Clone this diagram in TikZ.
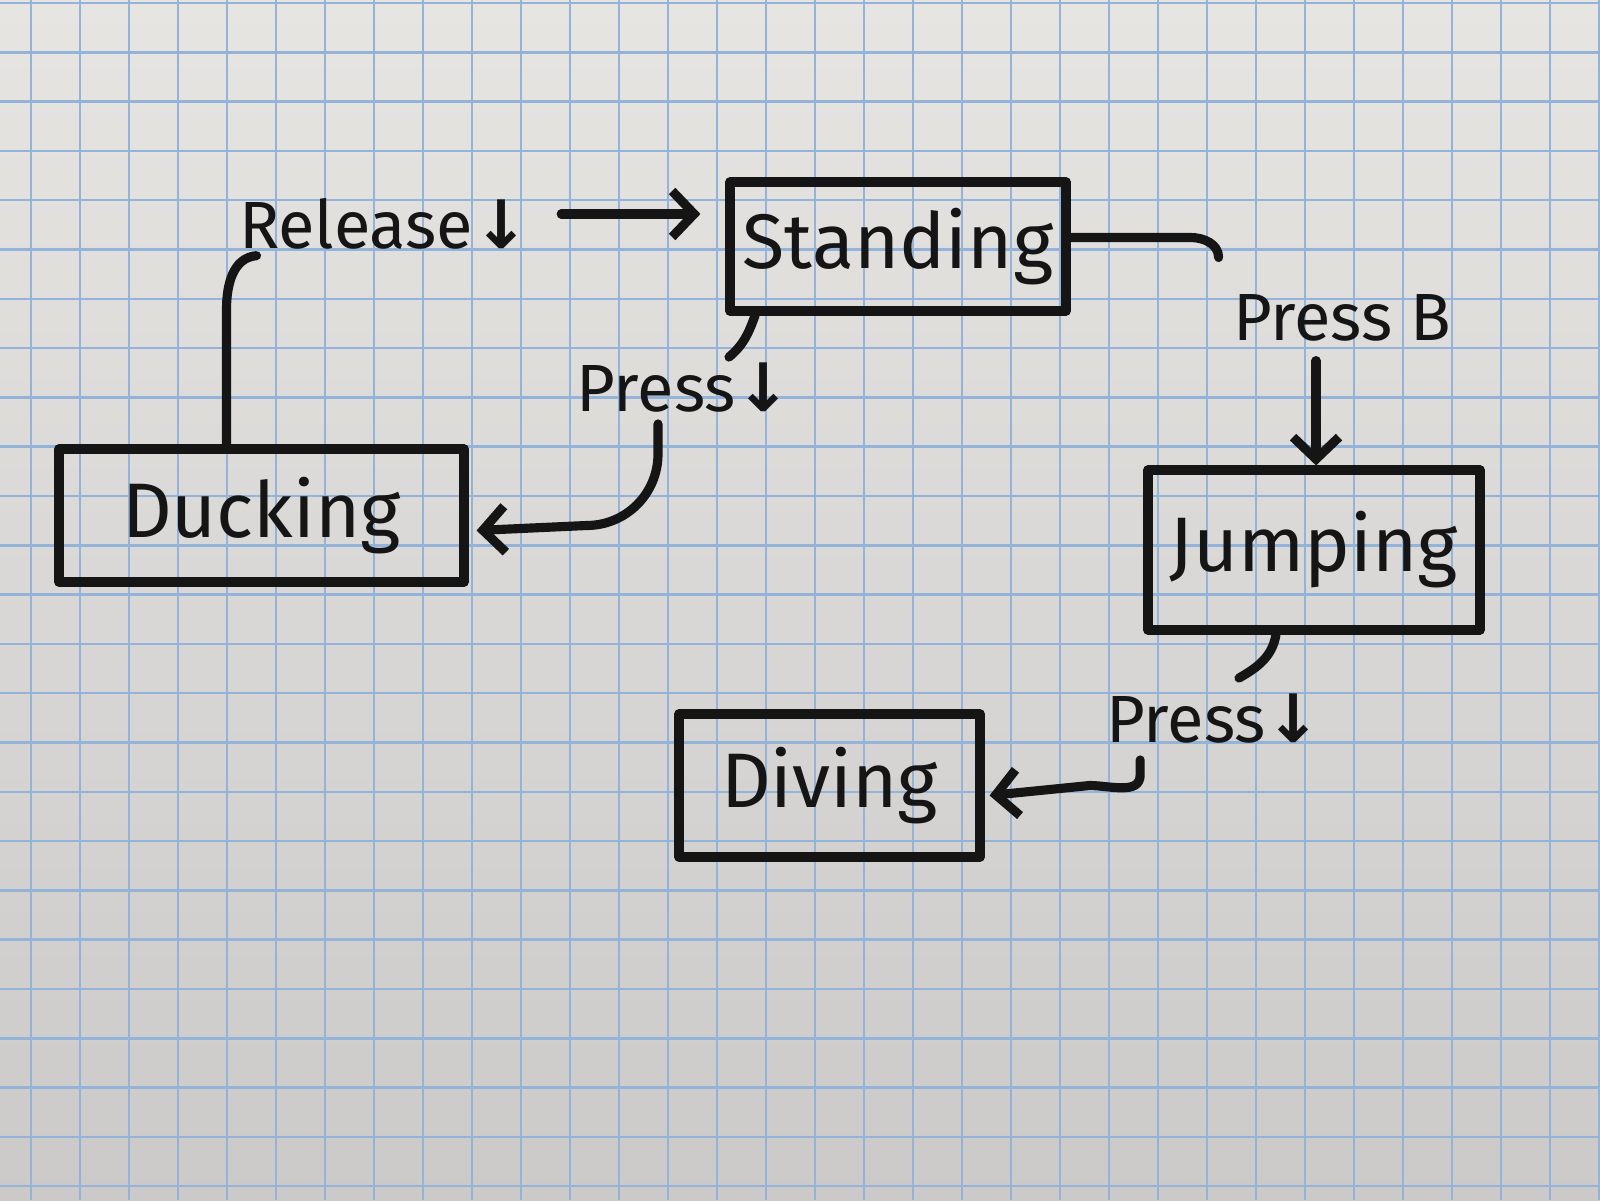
\documentclass[tikz,border=0pt]{standalone}
\usepackage{fontspec}
\setmainfont{Fira Sans}
\newfontfamily\symf{DejaVu Sans}
\usetikzlibrary{arrows.meta,calc}
\definecolor{ink}{HTML}{151515}
\definecolor{papertop}{HTML}{E6E5E2}
\definecolor{paperbot}{HTML}{CBCAC9}
\definecolor{gridc}{HTML}{93B3D8}
\tikzset{
  pen/.style={line width=2.6pt,line cap=round,line join=round,draw=ink},
  state/.style={pen,rectangle,inner sep=0pt,font=\fontsize{22}{24}\selectfont,text=ink},
  lbl/.style={font=\fontsize{19}{21}\selectfont,text=ink,inner sep=1pt},
  arr/.style={pen,-{Straight Barb[length=0.22cm,width=0.46cm,line width=2.6pt]}}
}
\newcommand{\dn}{{\symf\bfseries ↓}}
\begin{document}
\begin{tikzpicture}
\useasboundingbox (0,0) rectangle (16,12);
\shade[top color=papertop,bottom color=paperbot] (0,0) rectangle (16,12);
\foreach \k in {0,...,32} {
  \draw[gridc,line width=0.7pt] ({0.31+0.49*\k},0) -- ({0.31+0.49*\k},12);
}
\foreach \k in {0,...,24} {
  \draw[gridc,line width=0.7pt] (0,{11.97-0.493*\k}) -- (16,{11.97-0.493*\k});
}

% states
\node[state,minimum width=3.36cm,minimum height=1.29cm] (standing) at (8.98,9.535) {Standing};
\node[state,minimum width=4.05cm,minimum height=1.33cm] (ducking) at (2.615,6.845) {Ducking};
\node[state,minimum width=3.32cm,minimum height=1.60cm] (jumping) at (13.14,6.50) {Jumping};
\node[state,minimum width=3.01cm,minimum height=1.43cm] (diving) at (8.295,4.145) {Diving};

% labels
\node[lbl] (release) at (3.84,9.76) {Release\dn};
\node[lbl] (pressdown) at (6.84,8.12) {Press\dn};
\node[lbl] (pressb) at (13.42,8.82) {Press B};
\node[lbl] (pressdive) at (12.14,4.81) {Press\dn};

% Ducking -> Standing via Release
\coordinate (d1) at ([xshift=-0.35cm]ducking.north);
\coordinate (d2) at ($(d1 |- release.south)+(0.3,-0.02)$);
\draw[pen] (d1) -- ($(d1)+(0,1.35)$) to[out=90,in=185] (d2);
\coordinate (r1) at ($(release.east)+(0.28,0.1)$);
\coordinate (r2) at ($(standing.west |- r1)+(-0.25,0)$);
\draw[arr] (r1) -- (r2);

% Standing -> Ducking via Press down
\coordinate (s1) at ([xshift=-1.43cm]standing.south);
\coordinate (s2) at ($(pressdown.north)+(0.45,0.02)$);
\draw[pen] (s1) to[out=-110,in=40] (s2);
\coordinate (p1) at ($(pressdown.south)+(-0.26,-0.07)$);
\coordinate (p2) at ($(ducking.east)+(0.08,-0.15)$);
\draw[arr] (p1) -- ++(0,-0.3) to[out=-90,in=0] ($(p2)+(1.1,0.05)$) -- (p2);

% Standing -> Jumping via Press B
\coordinate (j1) at ([yshift=0.09cm]standing.east);
\draw[pen] (j1) -- ++(1.2,0.0) to[out=0,in=90] ($(j1)+(1.48,-0.2)$);
\coordinate (b1) at ($(pressb.south)+(-0.26,-0.15)$);
\coordinate (b2) at ([xshift=0.02cm]jumping.north);
\draw[arr] (b1) -- (b1 |- b2);

% Jumping -> Diving via Press down
\coordinate (k1) at ([xshift=-0.38cm]jumping.south);
\coordinate (k2) at ($(pressdive.north)+(0.25,0.12)$);
\draw[pen] (k1) to[out=-100,in=30] (k2);
\coordinate (q1) at ($(pressdive.south west)+(0.38,-0.12)$);
\coordinate (q2) at ($(diving.east)+(0.05,-0.1)$);
\draw[arr] (q1) -- ++(0,-0.15) to[out=-90,in=0] ($(q2)+(1.0,0.1)$) -- (q2);
\end{tikzpicture}
\end{document}
